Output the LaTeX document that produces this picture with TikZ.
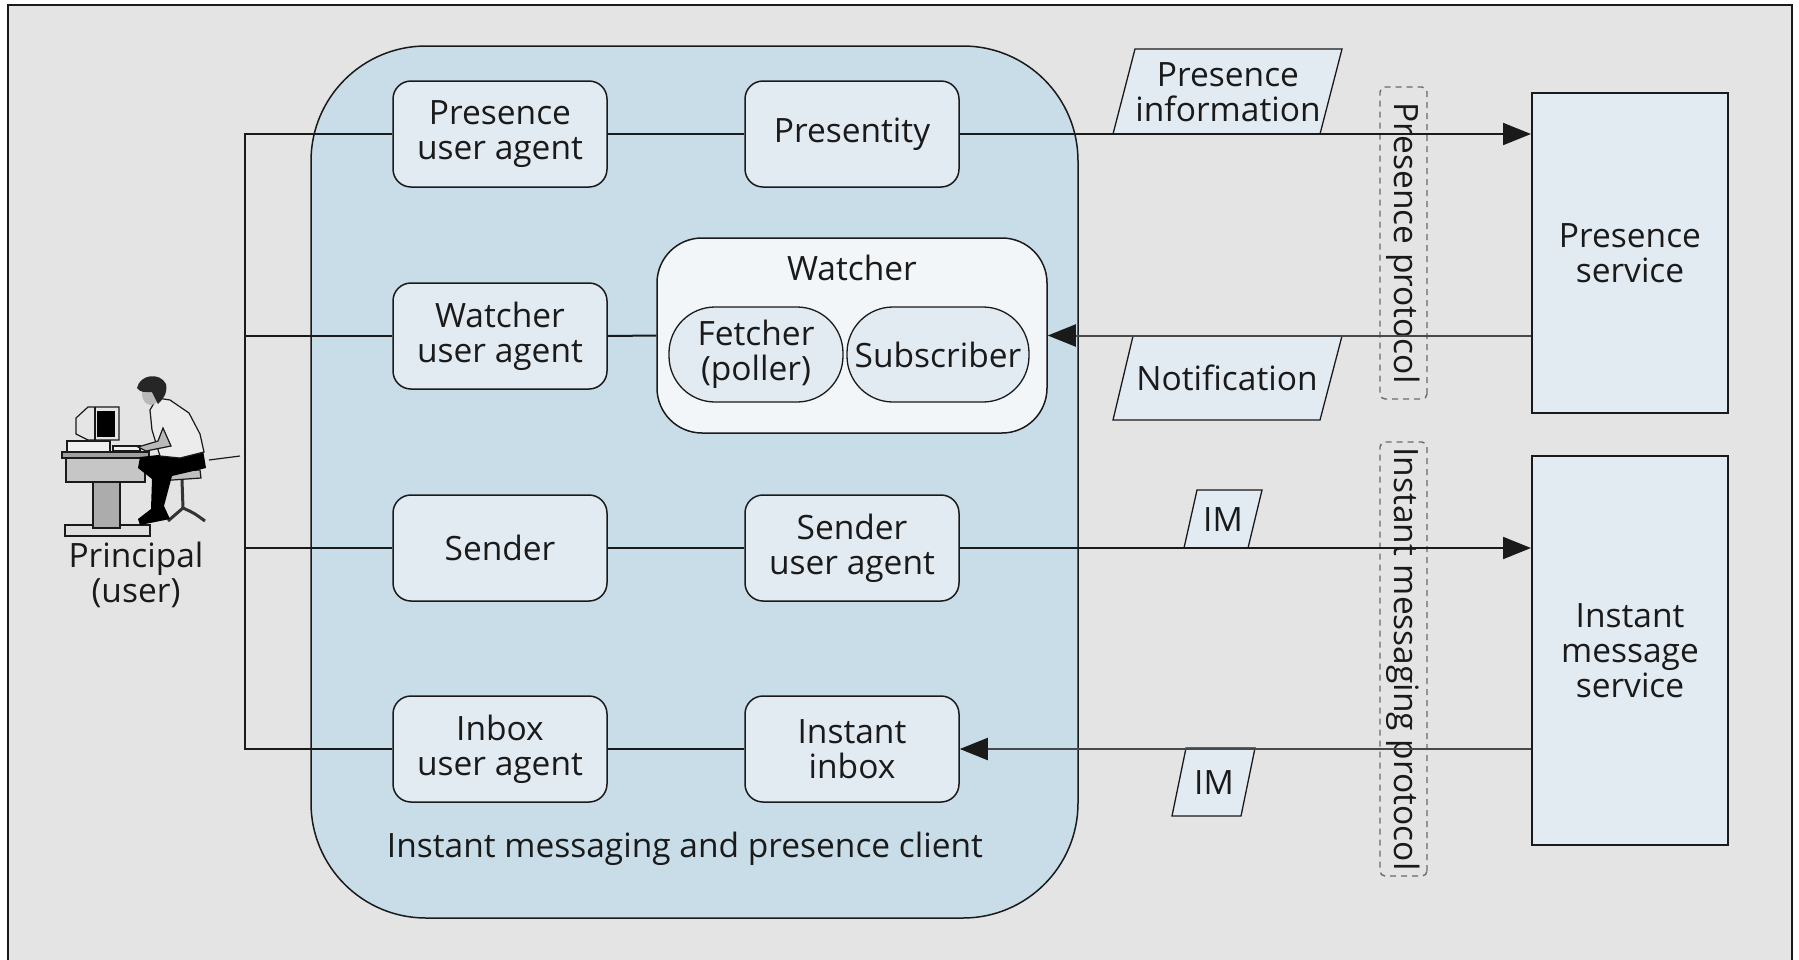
\documentclass[tikz,border=0pt]{standalone}
\usepackage{fontspec}
\setmainfont{Open Sans}
\usetikzlibrary{arrows.meta,calc}
\definecolor{bg}{HTML}{E4E4E4}
\definecolor{clientfill}{HTML}{C9DDE8}
\definecolor{boxfill}{HTML}{E2EAF2}
\definecolor{watchfill}{HTML}{F2F6F9}
\definecolor{ink}{HTML}{1A1A1A}
\begin{document}
\begin{tikzpicture}[x=1pt,y=-1pt,
  font=\fontsize{33.5}{35}\selectfont, text=ink,
  agent/.style={draw=ink, line width=1.5pt, fill=boxfill, rounded corners=18pt,
    minimum width=214pt, minimum height=106pt, align=center, inner sep=0pt},
  pill/.style={draw=ink, line width=1.3pt, fill=boxfill, rounded corners=46pt,
    minimum height=95pt, align=center, inner sep=0pt},
  service/.style={draw=ink, line width=2pt, fill=boxfill,
    minimum width=196pt, align=center, inner sep=0pt},
  proto/.style={draw=ink!65, line width=1.4pt, dash pattern=on 6pt off 5pt,
    rounded corners=5pt, rotate=-90, minimum height=47pt, inner sep=0pt},
  tag/.style={draw=ink, line width=1.3pt, fill=boxfill},
  wire/.style={draw=ink, line width=2pt},
  inwire/.style={draw=ink!80, line width=2pt},
  tip/.style={-{Triangle[length=28pt,width=22pt,color=ink]}},
  lbl/.style={align=center, inner sep=0pt}
]
\useasboundingbox (0,0) rectangle (1799,959);
\fill[white] (0,0) rectangle (1799,959);
\fill[bg] (8,5) rectangle (1792,962);
\draw[line width=1.6pt, ink] (8,970) -- (8,5) -- (1792,5) -- (1792,970);

% client container
\node[draw=ink, line width=1.5pt, fill=clientfill, rounded corners=115pt,
  minimum width=767pt, minimum height=872pt, inner sep=0pt] (client) at (694.5,482) {};
\node[lbl] (clientlbl) at (685,849) {Instant messaging and presence client};

% agents
\node[agent] (pua) at (500,134) {Presence\\user agent};
\node[agent] (pty) at (852,134) {Presentity};
\node[agent] (wua) at (500,336) {Watcher\\user agent};
\node[agent] (snd) at (500,548) {Sender};
\node[agent] (sua) at (852,548) {Sender\\user agent};
\node[agent] (iua) at (500,749) {Inbox\\user agent};
\node[agent] (inb) at (852,749) {Instant\\inbox};

% watcher
\node[draw=ink, line width=1.5pt, fill=watchfill, rounded corners=45pt,
  minimum width=390pt, minimum height=195pt, inner sep=0pt] (watcher) at (852,335.5) {};
\node[lbl] (wlbl) at (852,268) {Watcher};
\node[pill, minimum width=174pt] (fetch) at (756,354.5) {Fetcher\\(poller)};
\node[pill, minimum width=182pt] (subs) at (938,354.5) {Subscriber};

% services
\node[service, minimum height=320pt] (psvc) at (1630,253) {Presence\\service};
\node[service, minimum height=389pt] (imsvc) at (1630,650.5) {Instant\\message\\service};

% protocol boxes
\node[proto, minimum width=312pt] (pp) at (1403.5,243) {Presence protocol};
\node[proto, minimum width=434pt] (imp) at (1403.5,659) {Instant messaging protocol};

% message tags
\draw[tag] (1113,134) -- (1135,49) -- (1342,49) -- (1320,134) -- cycle;
\node[lbl] (pinfo) at (1228,92) {Presence\\information};
\draw[tag] (1133,336) -- (1342,336) -- (1320,420) -- (1113,420) -- cycle;
\node[lbl] (notif) at (1227,378) {Notification};
\draw[tag] (1184,548) -- (1197,490) -- (1262,490) -- (1248,548) -- cycle;
\node[lbl] (im1) at (1223,520) {IM};
\draw[tag] (1172,816) -- (1186,748) -- (1255,748) -- (1241,816) -- cycle;
\node[lbl] (im2) at (1214,783) {IM};

% bracket to principal
\coordinate (b1) at (245,134);
\coordinate (b2) at (245,336);
\coordinate (b3) at (245,548);
\coordinate (b4) at (245,749);
\draw[wire] (pua.west) -- (b1) -- (b4) -- (iua.west);
\draw[wire] (wua.west) -- (b2);
\draw[wire] (snd.west) -- (b3);

% row links
\draw[wire] (pua.east) -- (pty.west);
\draw[wire] (wua.east) -- (watcher.west);
\draw[wire] (snd.east) -- (sua.west);
\draw[wire] (iua.east) -- (inb.west);

% protocol arrows
\draw[wire, tip] (pty.east) -- (pty.east -| psvc.west);
\draw[inwire, tip] (psvc.west |- watcher.east) -- (watcher.east);
\draw[wire, tip] (sua.east) -- (sua.east -| imsvc.west);
\draw[inwire, tip] (imsvc.west |- inb.east) -- (inb.east);

% principal clip art
\begin{scope}[line width=1.2pt, draw=ink]
  \draw[fill=gray!25] (65,525) rectangle (150,536);
  \draw[fill=gray!65] (93,482) rectangle (120,528);
  \draw[fill=gray!45] (66,457) rectangle (145,482);
  \draw[fill=gray!75] (62,452) rectangle (149,458);
  \draw[fill=gray!12] (67,441) rectangle (110,452);
  \draw[fill=gray!20] (76,418) -- (88,407) -- (119,407) -- (119,440) -- (88,440) -- (76,434) -- cycle;
  \fill[black] (97,411) rectangle (115,437);
  \draw (95,407) -- (95,440);
  \draw[fill=gray!12] (113,446) rectangle (140,451);
  % stool
  \draw[fill=gray!50] (157,472) -- (200,470) -- (201,478) -- (158,481) -- cycle;
  \draw[line width=3pt, gray!40!black] (182,480) -- (183,508);
  \draw[line width=3pt, gray!40!black] (183,508) .. controls (176,514) .. (168,521);
  \draw[line width=3pt, gray!40!black] (183,508) .. controls (194,513) .. (205,521);
  % legs
  \fill[black] (140,457) -- (203,450) -- (206,468) -- (172,476) -- (164,506) -- (170,519) -- (140,525) -- (138,519) -- (151,509) -- (152,479) -- (138,468) -- cycle;
  % shirt
  \draw[fill=gray!15] (157,398) -- (170,400) -- (189,413) -- (200,434) -- (204,452) -- (180,458) -- (160,456) -- (152,430) -- (150,410) -- cycle;
  % arm
  \draw[fill=gray!55] (163,428) -- (171,446) -- (146,451) -- (138,447) -- (158,441) -- cycle;
  % head
  \fill[gray!55] (151,394) ellipse (9pt and 11pt);
  \fill[black!85] (137,388) .. controls (140,374) and (160,372) .. (166,384) .. controls (168,394) and (162,400) .. (158,404) -- (152,392) .. controls (146,392) and (140,393) .. (137,388) -- cycle;
  \draw (209,460) -- (240,456);
\end{scope}
\node[lbl] (principal) at (136,575) {Principal\\(user)};
\end{tikzpicture}
\end{document}
